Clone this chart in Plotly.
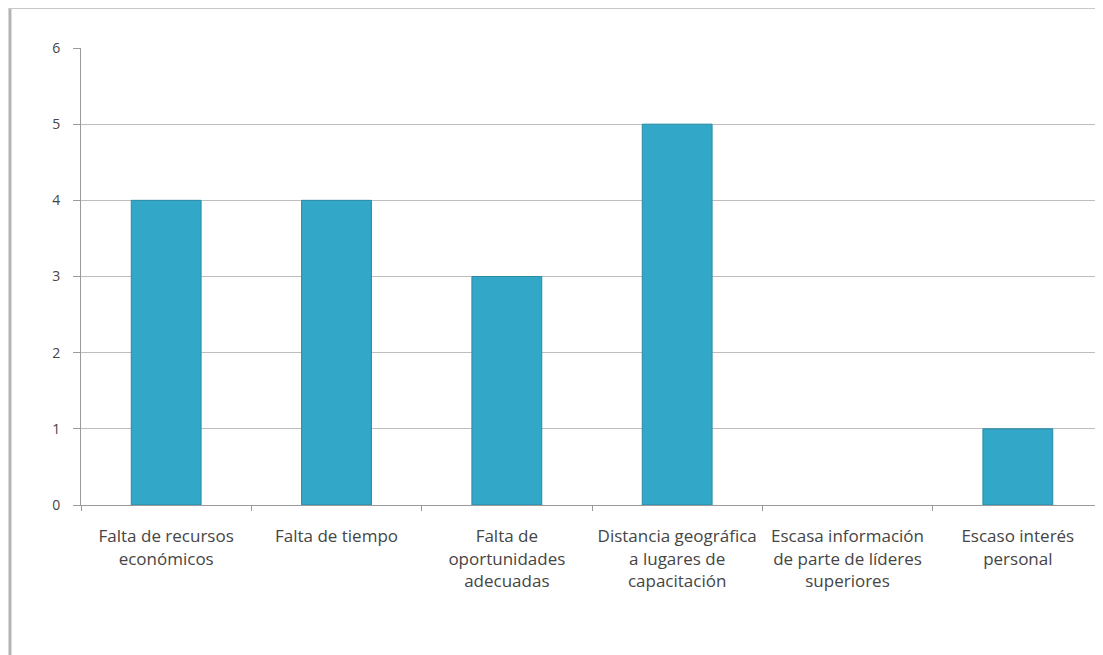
import plotly.graph_objects as go

categories = [
    "Falta de recursos<br>económicos",
    "Falta de tiempo",
    "Falta de<br>oportunidades<br>adecuadas",
    "Distancia geográfica<br>a lugares de<br>capacitación",
    "Escasa información<br>de parte de líderes<br>superiores",
    "Escaso interés<br>personal",
]
values = [4, 4, 3, 5, 0, 1]
y_ticks = [0, 1, 2, 3, 4, 5, 6]

fig = go.Figure()
fig.add_trace(go.Bar(
    x=categories,
    y=values,
    marker=dict(color="#33a7c7",
                line=dict(color="#2a8aa4", width=[1 if v > 0 else 0 for v in values])),
    width=0.41,
))

fig.update_layout(
    width=1103, height=655,
    margin=dict(l=73, r=8, t=40, b=158),
    paper_bgcolor="white",
    plot_bgcolor="white",
    showlegend=False,
    font=dict(family="Open Sans", size=17, color="#454545"),
    shapes=[
        dict(type="line", xref="paper", yref="paper", x0=-0.0695, x1=-0.0695, y0=-0.4, y1=1.0875,
             line=dict(color="#b4b4b4", width=3)),
        dict(type="line", xref="paper", yref="paper", x0=-0.0705, x1=1.0, y0=1.0875, y1=1.0875,
             line=dict(color="#c8c8c8", width=2)),
    ],
)
fig.update_xaxes(
    type="category",
    tickson="boundaries",
    ticks="outside", ticklen=5, tickcolor="#9a9a9a",
    showline=True, linecolor="#9a9a9a", linewidth=1,
    showgrid=False,
    ticklabelstandoff=16,
    tickfont=dict(family="Open Sans", size=17, color="#454545"),
)
fig.update_yaxes(
    range=[0, 6],
    tickvals=y_ticks,
    ticks="outside", ticklen=7, tickcolor="#9a9a9a",
    showline=True, linecolor="#9a9a9a", linewidth=1,
    gridcolor="#bdbdbd", gridwidth=1,
    zeroline=False,
    ticklabelstandoff=10,
    tickfont=dict(family="Open Sans", size=14, color="#454545"),
)

fig.write_html("out.html")
